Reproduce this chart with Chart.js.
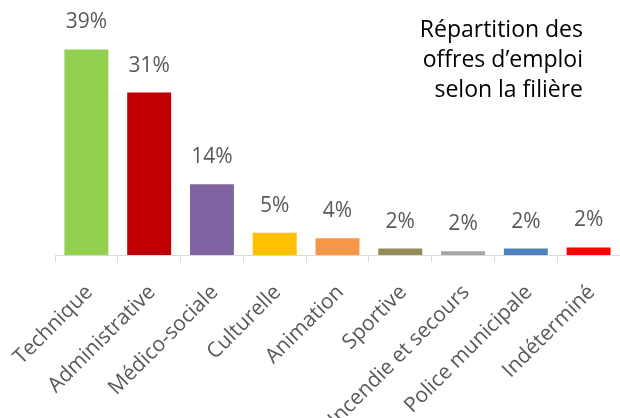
<!DOCTYPE html>
<html>
<head>
<meta charset="utf-8">
<script src="https://cdn.jsdelivr.net/npm/chart.js@4"></script>
<style>
  html, body { margin: 0; padding: 0; background: #fff; }
  #wrap { width: 620px; height: 418px; }
</style>
</head>
<body>
<div id="wrap"><canvas id="chart" width="620" height="418"></canvas></div>
<script>
// data
const categories = ['Technique', 'Administrative', 'Médico-sociale', 'Culturelle', 'Animation',
    'Sportive', 'Incendie et secours', 'Police municipale', 'Indéterminé'];
const values = [39, 31, 14, 5, 4, 2.1, 1.6, 2.1, 2.3];
const barColors = ['#92D050', '#C00000', '#8064A2', '#FFC000', '#F79646',
    '#948A54', '#A5A5A5', '#4F81BD', '#FF0000'];
const titleLines = ['Répartition des', 'offres d’emploi', 'selon la filière'];

const fontFamily = '"Open Sans", sans-serif';

// value labels above the bars
const valueLabels = {
    id: 'valueLabels',
    afterDatasetsDraw(chart) {
        const ctx = chart.ctx;
        const meta = chart.getDatasetMeta(0);
        ctx.save();
        ctx.font = '21px ' + fontFamily;
        ctx.fillStyle = '#595959';
        ctx.textAlign = 'center';
        ctx.textBaseline = 'middle';
        meta.data.forEach((bar, i) => {
            ctx.fillText(Math.round(values[i]) + '%', bar.x, bar.y - 27);
        });
        ctx.restore();
    }
};

// title block in the upper right
const cornerTitle = {
    id: 'cornerTitle',
    afterDraw(chart) {
        const ctx = chart.ctx;
        ctx.save();
        ctx.font = '23px ' + fontFamily;
        ctx.fillStyle = '#000';
        ctx.textAlign = 'right';
        ctx.textBaseline = 'middle';
        titleLines.forEach((line, i) => {
            ctx.fillText(line, 583, 30 + i * 30);
        });
        ctx.restore();
    }
};

const ctx = document.getElementById('chart').getContext('2d');
new Chart(ctx, {
    type: 'bar',
    data: {
        labels: categories,
        datasets: [{
            data: values,
            backgroundColor: barColors,
            borderWidth: 0,
            categoryPercentage: 1,
            barPercentage: 0.7
        }]
    },
    options: {
        responsive: false,
        animation: false,
        layout: {
            padding: { left: 55, top: 44, right: 0, bottom: 0 }
        },
        plugins: {
            legend: { display: false },
            tooltip: { enabled: false }
        },
        scales: {
            y: {
                display: false,
                min: 0.9,
                max: 40
            },
            x: {
                grid: {
                    offset: true,
                    drawOnChartArea: false,
                    color: '#D9D9D9',
                    tickLength: 7
                },
                border: { color: '#D9D9D9' },
                ticks: {
                    color: '#595959',
                    font: { family: fontFamily, size: 21 },
                    minRotation: 45,
                    maxRotation: 45,
                    padding: 18,
                    labelOffset: 3
                },
                afterFit(scale) {
                    scale.height = 418 - 255;
                    scale.paddingLeft = 0;
                    scale.paddingRight = 0;
                }
            }
        }
    },
    plugins: [valueLabels, cornerTitle]
});
</script>
</body>
</html>
